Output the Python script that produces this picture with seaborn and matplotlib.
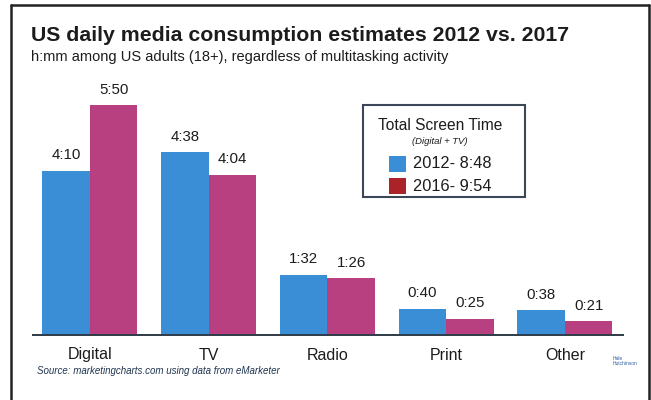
import matplotlib
matplotlib.use("Agg")
import matplotlib.pyplot as plt
from matplotlib.patches import Rectangle
from matplotlib.lines import Line2D
import seaborn as sns
import pandas as pd

# Daily minutes per medium, US adults (18+)
categories = ["Digital", "TV", "Radio", "Print", "Other"]
minutes_2012 = [250, 278, 92, 40, 38]
minutes_2017 = [350, 244, 86, 25, 21]
series_names = ["2012", "2017"]
legend_entries = ["2012- 8:48", "2016- 9:54"]

BLUE = "#3a8ed6"
PINK = "#b83f80"
LEGEND_RED = "#ab2329"
INK = "#1c1c1c"

sns.set_theme(style="white")
plt.rcParams["font.family"] = ["Liberation Sans", "DejaVu Sans"]

df = pd.DataFrame({
    "Medium": categories * 2,
    "Year": [series_names[0]] * len(categories) + [series_names[1]] * len(categories),
    "Minutes": minutes_2012 + minutes_2017,
})

W, H = 651, 400
fig = plt.figure(figsize=(W / 100, H / 100), dpi=100)
fig.patch.set_facecolor("white")


def fx(px):
    return px / W


def fy(py):
    return 1 - py / H


# Plot area: baseline at y=335, from x=33 to x=623
ax_left, ax_right, ax_bottom, ax_top = 33, 623, 335, 95
ax = fig.add_axes([fx(ax_left), fy(ax_bottom), fx(ax_right - ax_left), (ax_bottom - ax_top) / H])

sns.barplot(data=df, x="Medium", y="Minutes", hue="Year", order=categories,
            hue_order=series_names, palette=[BLUE, PINK], width=0.8,
            saturation=1, edgecolor="none", linewidth=0, legend=False, ax=ax)

px_per_min = 0.657
ax.set_ylim(0, (ax_bottom - ax_top) / px_per_min)
ax.set_xlim(-0.48, 4.49)

for spine in ["top", "right", "left"]:
    ax.spines[spine].set_visible(False)
ax.spines["bottom"].set_color("#2e3b48")
ax.spines["bottom"].set_linewidth(1.4)
ax.set_yticks([])
ax.set_xlabel("")
ax.set_ylabel("")
ax.tick_params(axis="x", length=0, pad=9, labelsize=11.5, labelcolor=INK)


def hmm(m):
    return f"{m // 60}:{m % 60:02d}"


for container in ax.containers:
    labels = [hmm(int(round(b.get_height()))) for b in container]
    ax.bar_label(container, labels=labels, padding=6, fontsize=10.8, color=INK)

# Title and subtitle
fig.text(fx(31), fy(41), "US daily media consumption estimates 2012 vs. 2017",
         fontsize=15.3, fontweight="bold", color=INK, ha="left", va="baseline")
fig.text(fx(31), fy(61), "h:mm among US adults (18+), regardless of multitasking activity",
         fontsize=10.5, color=INK, ha="left", va="baseline")

# Legend box
fig.patches.append(Rectangle((fx(363), fy(197)), fx(525 - 363), (197 - 105) / H,
                             transform=fig.transFigure, facecolor="white",
                             edgecolor="#3b4656", linewidth=1.5, zorder=5))
fig.text(fx(440), fy(125), "Total Screen Time", fontsize=11.2, color=INK,
         ha="center", va="center", zorder=6)
fig.text(fx(440), fy(141), "(Digital + TV)", fontsize=6.8, style="italic", color=INK,
         ha="center", va="center", zorder=6)
for i, (label, color) in enumerate(zip(legend_entries, [BLUE, LEGEND_RED])):
    yc = 164 + i * 22
    fig.patches.append(Rectangle((fx(389), fy(yc + 8)), fx(17), 16 / H,
                                 transform=fig.transFigure, facecolor=color,
                                 edgecolor="none", zorder=6))
    fig.text(fx(413), fy(yc), label, fontsize=11.8, color=INK,
             ha="left", va="center", zorder=6)

# Source note and mark
fig.text(fx(37), fy(371), "Source: marketingcharts.com using data from eMarketer",
         fontsize=7, style="italic", color="#1f3550", ha="left", va="center")
fig.text(fx(613), fy(361), "Hale\nHutchinson", fontsize=3.5, color="#2f5fa8",
         ha="left", va="center", linespacing=0.9)

# Outer frame
for (x0, y0, x1, y1) in [(11, 4.5, 649, 4.5), (11, 4.5, 11, 400), (649, 4.5, 649, 400)]:
    fig.lines.append(Line2D([fx(x0), fx(x1)], [fy(y0), fy(y1)], transform=fig.transFigure,
                            color="#222222", linewidth=1.8))

fig.savefig("out.png", dpi=100, facecolor="white")
